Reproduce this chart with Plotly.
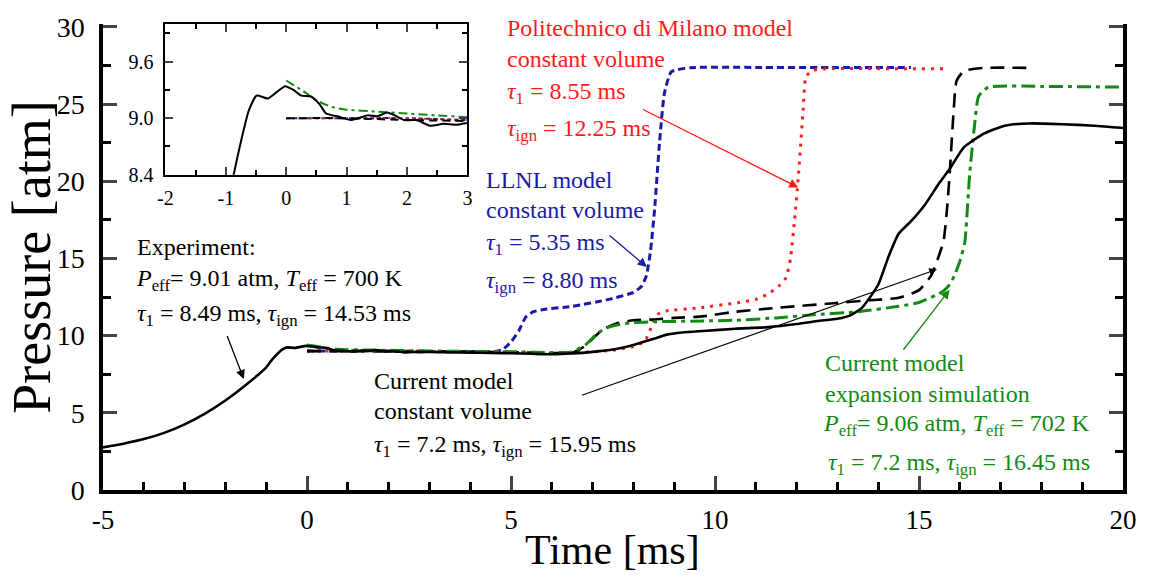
import plotly.graph_objects as go

# ---------------- data ----------------
exp_t = [-5.0, -4.5, -4.0, -3.5, -3.0, -2.5, -2.0, -1.5, -1.0, -0.87, -0.75, -0.62, -0.49,
         -0.3, -0.02, 0.12, 0.25, 0.41, 0.55, 0.66, 0.85, 1.07, 1.2, 1.34, 1.51, 1.67, 1.8,
         1.95, 2.16, 2.38, 2.6, 2.82, 3.0, 3.5, 4.0, 4.5, 5.0, 5.5, 6.0, 6.5, 7.0, 7.5, 8.0,
         8.5, 8.8, 9.2, 9.7, 10.5, 11.3, 12.0, 12.5, 13.0, 13.3, 13.6, 14.0, 14.25, 14.5,
         14.8, 15.15, 15.5, 15.75, 16.1, 16.6, 17.1, 17.7, 18.5, 19.3, 20.0]
exp_p = [2.76, 3.0, 3.3, 3.7, 4.25, 4.95, 5.8, 6.8, 7.95, 8.4, 8.75, 9.08, 9.24,
         9.21, 9.34, 9.3, 9.24, 9.23, 9.15, 9.05, 9.02, 8.98, 9.0, 9.03, 9.02, 9.06, 9.03,
         8.98, 8.98, 8.92, 8.94, 8.93, 8.95, 8.92, 8.9, 8.88, 8.86, 8.83, 8.8, 8.85, 8.95, 9.1, 9.4,
         9.8, 10.05, 10.2, 10.3, 10.45, 10.55, 10.75, 10.95, 11.1, 11.3, 11.8, 13.3, 15.1, 16.6,
         17.4, 18.5, 19.9, 20.8, 22.2, 23.1, 23.6, 23.75, 23.7, 23.6, 23.45]

llnl_t = [0, 1, 2, 3, 4, 4.6, 4.8, 5.0, 5.19, 5.36, 5.55, 5.8, 6.5, 7.4, 8.0, 8.2, 8.32,
          8.42, 8.52, 8.64, 8.76, 8.93, 9.4, 11.0, 13.0, 14.8]
llnl_p = [9.0, 9.0, 9.0, 8.98, 8.97, 8.97, 9.1, 9.6, 10.3, 11.2, 11.55, 11.7, 11.9, 12.35,
          12.8, 13.2, 13.9, 15.5, 18.2, 22.5, 25.7, 27.1, 27.36, 27.38, 27.38, 27.38]

polimi_t = [0, 1, 2, 3, 4, 5, 6, 7.0, 7.5, 8.0, 8.28, 8.4, 8.5, 8.6, 8.8, 9.6, 10.6, 11.0,
            11.3, 11.6, 11.75, 11.85, 11.95, 12.04, 12.16, 12.23, 12.4, 12.8, 14.0, 15.6]
polimi_p = [9.0, 9.0, 9.0, 8.98, 8.97, 8.95, 8.9, 8.95, 9.05, 9.3, 9.65, 10.3, 11.0, 11.4,
            11.6, 11.8, 12.15, 12.35, 12.7, 13.3, 13.8, 15.0, 17.5, 20.2, 24.6, 26.8, 27.2,
            27.3, 27.3, 27.3]

cv_t = [0, 1, 2, 3, 4, 5, 6, 6.5, 6.8, 7.0, 7.25, 7.6, 8.0, 8.5, 9.0, 9.7, 10.5, 11.5,
        12.9, 13.8, 14.5, 15.0, 15.3, 15.45, 15.6, 15.68, 15.75, 15.85, 15.92, 16.1, 16.6, 17.75]
cv_p = [9.0, 9.0, 8.98, 8.97, 8.95, 8.93, 8.87, 8.9, 9.3, 9.8, 10.4, 10.8, 11.0, 11.05,
        11.15, 11.25, 11.55, 11.8, 12.1, 12.3, 12.45, 12.95, 13.9, 14.9, 16.1, 18.0, 20.4,
        24.6, 26.5, 27.15, 27.35, 27.35]

es_t = [0, 0.3, 0.5, 0.75, 1.0, 1.5, 2.0, 2.5, 3.0, 4.0, 5.0, 6.0, 6.5, 6.82, 7.14, 7.4,
        7.62, 8.0, 8.5, 9.7, 10.5, 11.5, 12.4, 13.5, 14.5, 15.0, 15.4, 15.6, 15.75, 15.87,
        16.0, 16.12, 16.24, 16.36, 16.46, 16.7, 18.0, 20.0]
es_p = [9.4, 9.28, 9.19, 9.12, 9.09, 9.07, 9.05, 9.03, 9.01, 8.98, 8.95, 8.9, 8.95, 9.4,
        10.2, 10.55, 10.7, 10.85, 10.9, 10.95, 11.0, 11.15, 11.35, 11.55, 11.9, 12.15, 12.6,
        12.9, 13.3, 13.9, 14.8, 16.0, 20.4, 23.6, 25.5, 26.1, 26.15, 26.1]

x_ticks = [-5, 0, 5, 10, 15, 20]
x_labels = ["-5", "0", "5", "10", "15", "20"]
y_ticks = [0, 5, 10, 15, 20, 25, 30]
inset_x_ticks = [-2, -1, 0, 1, 2, 3]
inset_x_labels = ["-2", "-1", "0", "1", "2", "3"]
inset_y_ticks = [8.4, 9.0, 9.6]
inset_y_labels = ["8.4", "9.0", "9.6"]

# ---------------- styles ----------------
FONT = "Liberation Serif"
BLUE = "#1a1aa6"
RED = "#ff1a1a"
GREEN = "#138a13"
W, H = 1149, 577
ML, MR, MT, MB = 103, 16, 20, 87
PW, PH = W - ML - MR, H - MT - MB


def P(px, py):
    return (px - ML) / PW, (H - MB - py) / PH


fig = go.Figure()

series = [
    (llnl_t, llnl_p, BLUE, "7px,4px", 3.0, "4px,3px"),
    (polimi_t, polimi_p, RED, "3px,6px", 3.0, "2px,4px"),
    (cv_t, cv_p, "black", "14px,8px", 2.6, "8px,5px"),
    (es_t, es_p, GREEN, "14px,5px,4px,5px", 3.0, "9px,4px,3px,4px"),
    (exp_t, exp_p, "black", "solid", 2.6, "solid"),
]
for t, p, c, d, w, d2 in series:
    fig.add_trace(go.Scatter(x=t, y=p, mode="lines", xaxis="x", yaxis="y",
                             line=dict(color=c, dash=d, width=w, shape="spline", smoothing=0.5),
                             showlegend=False, hoverinfo="skip"))
for t, p, c, d, w, d2 in series:
    fig.add_trace(go.Scatter(x=t, y=p, mode="lines", xaxis="x2", yaxis="y2",
                             line=dict(color=c, dash=d2, width=2.0, shape="spline", smoothing=0.5),
                             showlegend=False, hoverinfo="skip"))

ymax = 30 * PH / (PH - 3)

fig.update_layout(
    width=W, height=H,
    margin=dict(l=ML, r=MR, t=MT, b=MB),
    paper_bgcolor="white", plot_bgcolor="white",
    font=dict(family=FONT, color="black"),
    showlegend=False,
    xaxis=dict(domain=[0, 1], range=[-5, 20], tickmode="array", tickvals=x_ticks,
               ticktext=x_labels,
               ticks="inside", ticklen=14, tickwidth=3, showline=True, linewidth=3.5,
               linecolor="black", showgrid=False, zeroline=False, mirror=False,
               tickfont=dict(size=27, family=FONT), ticklabelstandoff=3,
               minor=dict(dtick=1, tick0=0, ticks="inside", ticklen=8, tickwidth=2.5,
                          tickcolor="black", showgrid=False)),
    yaxis=dict(domain=[0, 1], range=[0, ymax], tickmode="array", tickvals=y_ticks,
               ticks="inside", ticklen=14, tickwidth=3, showline=True, linewidth=3.5,
               linecolor="black", showgrid=False, zeroline=False, mirror="ticks",
               tickfont=dict(size=28, family=FONT), ticklabelstandoff=9,
               minor=dict(dtick=2.5, tick0=0, ticks="inside", ticklen=8, tickwidth=2.5,
                          tickcolor="black", showgrid=False)),
    xaxis2=dict(domain=[(166 - ML) / PW, (471 - ML) / PW], anchor="y2", range=[-2, 3],
                tickmode="array", tickvals=inset_x_ticks, ticktext=inset_x_labels,
                ticks="inside", ticklen=8,
                tickwidth=1.8, showline=True, linewidth=2, linecolor="black",
                showgrid=False, zeroline=False, mirror="ticks",
                tickfont=dict(size=20, family=FONT), ticklabelstandoff=4,
                minor=dict(dtick=0.5, tick0=0, ticks="inside", ticklen=5, tickwidth=1.5,
                           tickcolor="black", showgrid=False)),
    yaxis2=dict(domain=[(H - MB - 172) / PH, 1.0], anchor="x2", range=[8.4, 10.0],
                tickmode="array", tickvals=inset_y_ticks, ticktext=inset_y_labels,
                ticks="inside", ticklen=8, tickwidth=1.8, showline=True, linewidth=2,
                linecolor="black", showgrid=False, zeroline=False, mirror="ticks",
                tickfont=dict(size=20, family=FONT), ticklabelstandoff=6,
                minor=dict(tickmode="array", tickvals=[8.7, 9.3, 9.9], ticks="inside",
                           ticklen=5, tickwidth=1.5, tickcolor="black", showgrid=False)),
)

ann = []


def text(px, py, s, color="black", size=24):
    x, y = P(px, py)
    ann.append(dict(x=x, y=y, xref="paper", yref="paper", text=s, showarrow=False,
                    xanchor="left", yanchor="middle",
                    font=dict(family=FONT, size=size, color=color)))


def arrow(tail, head, color, width=1.3, size=1.4):
    ann.append(dict(x=head[0], y=head[1], ax=tail[0], ay=tail[1], xref="x", yref="y",
                    axref="x", ayref="y", text="", showarrow=True, arrowhead=2,
                    arrowsize=size, arrowwidth=width, arrowcolor=color))


tau1 = "<i>τ</i><sub>1</sub>"
tign = "<i>τ</i><sub>ign</sub>"
peff = "<i>P</i><sub>eff</sub>"
teff = "<i>T</i><sub>eff</sub>"

text(135, 245, "Experiment:")
text(134, 278, f"{peff}= 9.01 atm, {teff} = 700 K")
text(135, 314, f"{tau1} = 8.49 ms, {tign} = 14.53 ms")

text(509, 24, "Politechnico di Milano model", RED)
text(509, 55, "constant volume", RED)
text(509, 90, f"{tau1} = 8.55 ms", RED)
text(509, 127, f"{tign} = 12.25 ms", RED)

text(488, 177, "LLNL model", BLUE)
text(488, 208, "constant volume", BLUE)
text(488, 242, f"{tau1} = 5.35 ms", BLUE)
text(488, 280, f"{tign} = 8.80 ms", BLUE)

text(375, 380, "Current model")
text(375, 410, "constant volume")
text(375, 446, f"{tau1} = 7.2 ms, {tign} = 15.95 ms")

text(830, 362, "Current model", GREEN)
text(830, 393, "expansion simulation", GREEN)
text(828, 424, f"{peff}= 9.06 atm, {teff} = 702 K", GREEN)
text(833, 464, f"{tau1} = 7.2 ms, {tign} = 16.45 ms", GREEN)

arrow((-1.97, 10.08), (-1.55, 7.19), "black")
arrow((7.38, 16.57), (8.33, 14.45), BLUE)
arrow((8.2, 24.7), (12.04, 19.6), RED)
arrow((6.7, 6.1), (15.44, 14.3), "black", width=1.1)
arrow((14.59, 8.99), (15.75, 12.97), GREEN)

# axis titles
x, y = P(617, 551)
ann.append(dict(x=x, y=y, xref="paper", yref="paper", text="Time [ms]", showarrow=False,
                xanchor="center", yanchor="middle", font=dict(family=FONT, size=42)))
x, y = P(31, 255)
ann.append(dict(x=x, y=y, xref="paper", yref="paper", text="Pressure [atm]", showarrow=False,
                textangle=-90, xanchor="center", yanchor="middle",
                font=dict(family=FONT, size=54)))

fig.update_layout(annotations=ann)
fig.write_html("out.html", config={"displayModeBar": False},
               post_script="document.body.style.margin='0px';document.body.style.overflow='hidden';")
